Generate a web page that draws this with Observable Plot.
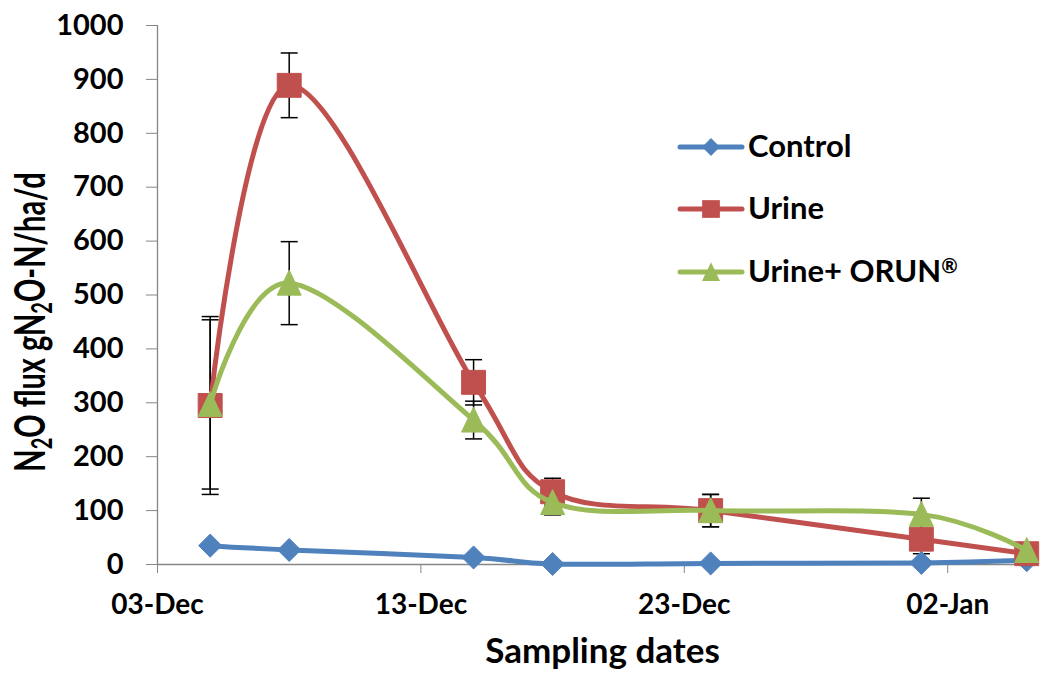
<!DOCTYPE html>
<html>
<head>
<meta charset="utf-8">
<script src="https://cdn.jsdelivr.net/npm/d3@7"></script>
<script src="https://cdn.jsdelivr.net/npm/@observablehq/plot@0.6"></script>
<style>
  html, body { margin: 0; padding: 0; background: #fff; }
  #wrap { position: relative; width: 1045px; height: 686px; }
  #legend { position: absolute; left: 670px; top: 120px; }
  svg text { font-family: Lato, "Open Sans", sans-serif; }
</style>
</head>
<body>
<div id="wrap"></div>
<script>
// ---- data ----
const dates = ["2012-12-05", "2012-12-08", "2012-12-15", "2012-12-18", "2012-12-24", "2013-01-01", "2013-01-05"];
const seriesNames = ["Control", "Urine", "Urine+ ORUN®"];
const control = [35, 27, 13, 1, 2, 3, 8];
const urine = [295, 889, 338, 135, 100, 47, 20];
const orun = [297, 522, 268, 115, 100, 93, 26];
const urineErr = [165, 60, 42, 25, 30, 27, 0];
const orunErr = [157, 77, 35, 23, 30, 30, 0];
const xTickDates = ["2012-12-03", "2012-12-13", "2012-12-23", "2013-01-02"];
const xDomain = ["2012-12-03", "2013-01-05T08:00"];
const yTicks = [0, 100, 200, 300, 400, 500, 600, 700, 800, 900, 1000];
const colors = ["#4F81BD", "#C0504D", "#9BBB59"];
const xTitle = "Sampling dates";
const yTitle = "N2O flux gN2O-N/ha/d";

// ---- derived tables ----
const parse = s => new Date(s + (s.length === 10 ? "T00:00Z" : "Z"));
const values = [control, urine, orun];
const long = [];
seriesNames.forEach((name, s) => dates.forEach((d, i) => long.push({series: name, date: parse(d), value: values[s][i]})));
const errRows = [];
[[urine, urineErr], [orun, orunErr]].forEach(([v, e]) => dates.forEach((d, i) => {
  if (e[i] > 0) errRows.push({date: parse(d), lo: v[i] - e[i], hi: v[i] + e[i]});
}));
const capRows = errRows.flatMap(r => [{date: r.date, y: r.lo}, {date: r.date, y: r.hi}]);

// ---- symbols ----
const capSymbol = { draw(ctx, size) { const r = Math.sqrt(size / Math.PI); ctx.moveTo(-r, 0); ctx.lineTo(r, 0); } };
const triSymbol = { draw(ctx, size) { const r = Math.sqrt(size / Math.PI); ctx.moveTo(0, -r * 1.08); ctx.lineTo(r, r); ctx.lineTo(-r, r); ctx.closePath(); } };
const symbols = ["diamond2", "square", triSymbol];
const radii = [10.4, 13.5, 12];

const marks = [
  Plot.ruleX(errRows, {x: "date", y1: "lo", y2: "hi", stroke: "black", strokeWidth: 1.5}),
  Plot.dot(capRows, {x: "date", y: "y", symbol: capSymbol, r: 8.5, stroke: "black", strokeWidth: 1.5, fill: "none"}),
  Plot.ruleY([0], {stroke: "#868686", strokeWidth: 1.3}),
  Plot.ruleX([parse(xDomain[0])], {stroke: "#868686", strokeWidth: 1.3})
];
seriesNames.forEach((name, s) => {
  const d = long.filter(r => r.series === name);
  marks.push(Plot.line(d, {x: "date", y: "value", stroke: colors[s], strokeWidth: 5, curve: "cardinal"}));
  marks.push(Plot.dot(d, {x: "date", y: "value", symbol: () => symbols[s], r: radii[s], fill: colors[s], stroke: colors[s], strokeWidth: 1}));
});
marks.push(Plot.text([xTitle], {text: d => d, frameAnchor: "bottom", dx: 6, dy: 98, fontSize: 35, fontWeight: "bold", fill: "black"}));
marks.push(Plot.text([yTitle], {text: d => d, frameAnchor: "left", textAnchor: "middle", rotate: -90, dx: -126, dy: 27, fontSize: 29, fontWeight: "bold", fill: "black"}));

const chart = Plot.plot({
  width: 1045,
  height: 686,
  marginLeft: 157,
  marginRight: 10,
  marginTop: 25,
  marginBottom: 122,
  style: {fontFamily: "Lato, sans-serif", fontWeight: "bold", fontSize: "28px", color: "black", background: "white", overflow: "visible"},
  x: {type: "utc", domain: xDomain.map(parse), ticks: xTickDates.map(parse), tickFormat: d3.utcFormat("%d-%b"), tickSize: 9, tickPadding: 21, label: null},
  y: {domain: [0, 1000], ticks: yTicks, tickFormat: d => String(d), tickSize: 11, tickPadding: 23, label: null},
  symbol: {type: "identity"},
  marks
});

// gray tick marks, black labels
d3.select(chart).selectAll('g[aria-label="x-axis tick"], g[aria-label="y-axis tick"], g[aria-label="x-axis"] line, g[aria-label="y-axis"] line, .tick line')
  .attr("stroke", "#868686");
d3.select(chart).selectAll('g[aria-label="y-axis tick label"]').attr("font-size", 29);

// subscripts in the y-axis title, glyphs stretched as in the reference
d3.select(chart).selectAll("text").filter(function() { return this.textContent === yTitle; }).each(function() {
  const t = d3.select(this);
  t.text(null);
  const parts = [["N", 0], ["2", 1], ["O flux gN", 0], ["2", 1], ["O-N/ha/d", 0]];
  parts.forEach(([s, sub]) => {
    const sp = t.append("tspan").text(s);
    if (sub) sp.attr("font-size", 20).attr("baseline-shift", "-22%");
  });
  const tr = t.attr("transform") || "";
  t.attr("transform", tr + " scale(1,1.45)");
});

document.getElementById("wrap").appendChild(chart);

// ---- legend ----
const lg = d3.select("#wrap").append("svg").attr("id", "legend").attr("width", 320).attr("height", 180);
const legendY = [27, 89, 152];
seriesNames.forEach((name, s) => {
  const g = lg.append("g").attr("transform", `translate(0,${legendY[s]})`);
  g.append("line").attr("x1", 10).attr("x2", 72).attr("stroke", colors[s]).attr("stroke-width", 5).attr("stroke-linecap", "round");
  const sym = typeof symbols[s] === "string" ? (symbols[s] === "square" ? d3.symbolSquare : d3.symbolDiamond2) : symbols[s];
  const sz = [8, 10, 9][s];
  g.append("path").attr("transform", "translate(41,0)").attr("d", d3.symbol(sym, Math.PI * sz * sz)()).attr("fill", colors[s]);
  const txt = g.append("text").attr("x", 78).attr("y", 10).attr("font-size", 31).attr("font-weight", "bold").attr("fill", "black");
  if (name.endsWith("®")) {
    txt.append("tspan").text(name.slice(0, -1));
    txt.append("tspan").text("®").attr("font-size", 20).attr("baseline-shift", "45%");
  } else txt.text(name);
});
</script>
</body>
</html>
